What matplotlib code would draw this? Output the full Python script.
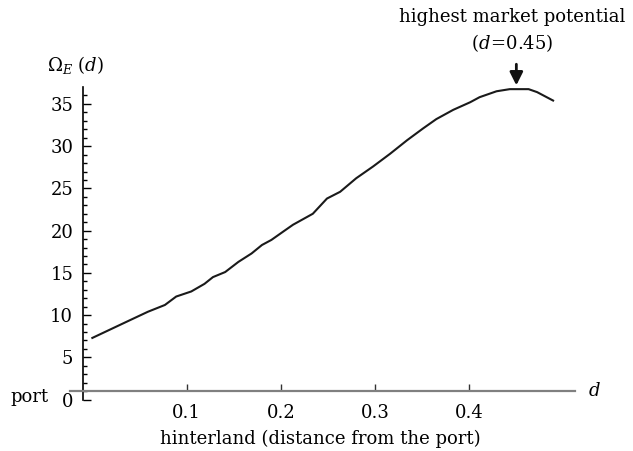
import matplotlib
matplotlib.use("Agg")
import matplotlib.pyplot as plt
from matplotlib.ticker import FixedLocator

# Market potential along the hinterland
d = [0.0, 0.019, 0.038, 0.059, 0.077, 0.089, 0.105, 0.119, 0.128, 0.141,
     0.155, 0.169, 0.180, 0.190, 0.204, 0.213, 0.234, 0.249, 0.263, 0.280,
     0.298, 0.316, 0.334, 0.351, 0.365, 0.383, 0.401, 0.411, 0.429, 0.443,
     0.463, 0.472, 0.489]
omega = [7.3, 8.3, 9.3, 10.4, 11.2, 12.2, 12.8, 13.7, 14.5, 15.1,
         16.3, 17.3, 18.3, 18.9, 20.0, 20.7, 22.0, 23.8, 24.6, 26.2,
         27.6, 29.1, 30.7, 32.1, 33.2, 34.3, 35.2, 35.8, 36.5, 36.75,
         36.75, 36.4, 35.4]

x_ticks = [0.1, 0.2, 0.3, 0.4]
x_tick_labels = ["0.1", "0.2", "0.3", "0.4"]
y_ticks = [0, 5, 10, 15, 20, 25, 30, 35]
d_peak = 0.45

plt.rcParams["font.family"] = "DejaVu Serif"
plt.rcParams["mathtext.fontset"] = "dejavuserif"
plt.rcParams["font.size"] = 13

fig = plt.figure(figsize=(6.33, 4.51), dpi=100)
ax = fig.add_axes([0.131, 0.114, 0.777, 0.693])

ax.plot(d, omega, color="#1a1a1a", lw=1.5)

ax.set_xlim(-0.01, 0.512)
ax.set_ylim(0, 37)

ax.spines["top"].set_visible(False)
ax.spines["right"].set_visible(False)
ax.spines["left"].set_linewidth(1.2)
ax.spines["left"].set_bounds(0, 37)
ax.spines["bottom"].set_position(("data", 1))
ax.spines["bottom"].set_bounds(-0.024, 0.512)
ax.spines["bottom"].set_color("#808080")
ax.spines["bottom"].set_linewidth(1.6)

ax.set_xticks(x_ticks)
ax.set_xticklabels(x_tick_labels)
ax.set_yticks(y_ticks)
ax.yaxis.set_minor_locator(FixedLocator(range(0, 37)))
ax.tick_params(axis="x", direction="in", length=5, width=1, color="#333333", pad=9)
ax.tick_params(axis="y", which="major", direction="in", length=5.5, width=1, pad=7)
ax.tick_params(axis="y", which="minor", direction="in", length=3, width=1)

ax.text(-0.048, 39.6, r"$\Omega_{E\;}\,(d)$", ha="left", va="center", clip_on=False)
ax.text(0.533, 1.0, r"$d$", ha="center", va="center", clip_on=False)
ax.text(-0.047, 0.35, "port", ha="right", va="center", clip_on=False)

ax.set_xlabel("hinterland (distance from the port)")
ax.xaxis.set_label_coords(0.482, -0.095)

# arrow pointing down at the peak
ax.annotate("", xy=(d_peak, 37.2), xytext=(d_peak, 39.7),
            arrowprops=dict(arrowstyle="-|>,head_length=0.6,head_width=0.3",
                            color="#111111", lw=2, shrinkA=0, shrinkB=0),
            annotation_clip=False)
ax.text(0.446, 45.3, "highest market potential", ha="center", va="center", clip_on=False)
ax.text(0.446, 42.2, r"$(d\!=\!0.45)$", ha="center", va="center", clip_on=False)

fig.savefig("out.png", dpi=100)
